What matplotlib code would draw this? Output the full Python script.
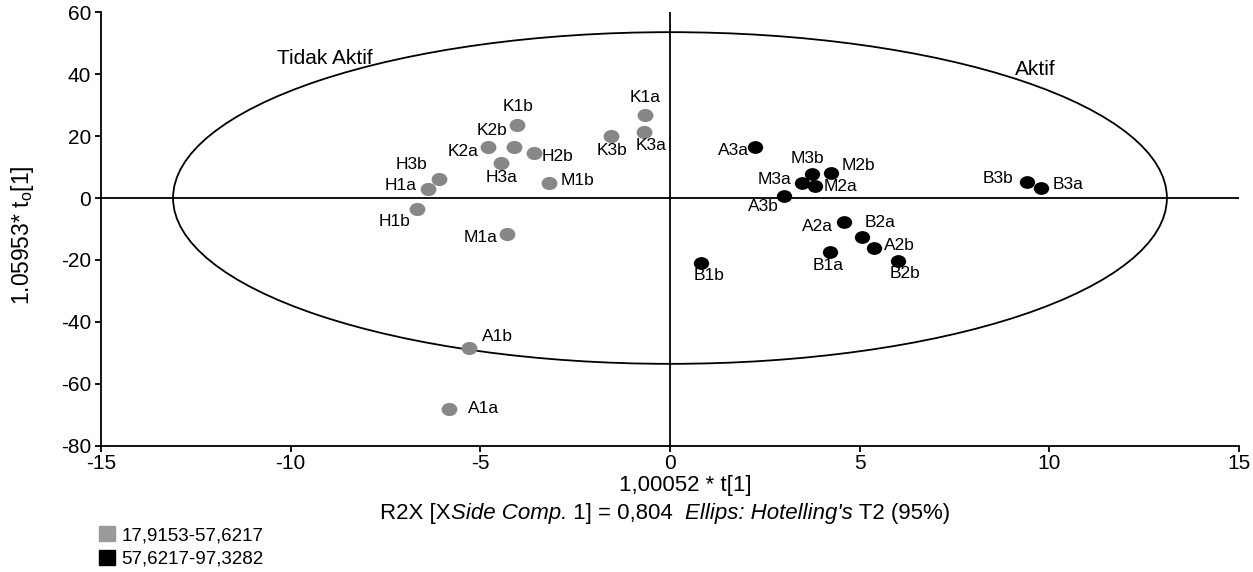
import matplotlib.pyplot as plt
import numpy as np
from matplotlib.patches import Ellipse, Patch
from matplotlib.path import Path
from matplotlib.transforms import Affine2D

plt.rcParams['font.family'] = ['Liberation Sans', 'DejaVu Sans']
plt.rcParams['mathtext.fontset'] = 'custom'
plt.rcParams['mathtext.rm'] = 'Liberation Sans'
plt.rcParams['mathtext.it'] = 'Liberation Sans:italic'
plt.rcParams['axes.unicode_minus'] = False

# scores, group "tidak aktif" (grey)
grey_names = ['K1b', 'K2b', 'K2a', 'H2b', 'H3a', 'H3b', 'H1a', 'H1b', 'M1b', 'M1a',
              'K3b', 'K1a', 'K3a', 'A1b', 'A1a']
grey_x = [-4.02, -4.11, -4.81, -3.59, -4.46, -6.10, -6.39, -6.67, -3.18, -4.30,
          -1.56, -0.66, -0.68, -5.31, -5.83]
grey_y = [23.5, 16.5, 16.5, 14.6, 11.4, 6.0, 2.9, -3.6, 4.9, -11.7,
          20.0, 26.8, 21.4, -48.5, -68.1]

# scores, group "aktif" (black)
black_names = ['A3a', 'M3b', 'M2b', 'M3a', 'M2a', 'A3b', 'A2a', 'B2a', 'A2b', 'B1a',
               'B2b', 'B1b', 'B3b', 'B3a']
black_x = [2.25, 3.74, 4.24, 3.47, 3.82, 3.00, 4.59, 5.07, 5.38, 4.22,
           6.02, 0.83, 9.40, 9.77]
black_y = [16.5, 7.7, 8.2, 4.9, 3.9, 0.7, -7.8, -12.7, -16.2, -17.3,
           -20.2, -21.1, 5.3, 3.1]

# Hotelling T2 (95%) ellipse semi-axes
ell_a = 13.1
ell_b = 53.5

legend_labels = ['17,9153-57,6217', '57,6217-97,3282']

# label offsets in pixels (dx right, dy down)
offsets = {
    'K1b': (1, -19), 'K2b': (-22, -16), 'K2a': (-24, 5), 'H2b': (24, 4),
    'H3a': (1, 15), 'H3b': (-27, -15), 'H1a': (-27, -4), 'H1b': (-22, 12),
    'M1b': (28, -2), 'M1a': (-26, 3), 'K3b': (1, 14), 'K1a': (0, -17),
    'K3a': (7, 14), 'A1b': (29, -12), 'A1a': (35, -1),
    'A3a': (-22, 4), 'M3b': (-4, -16), 'M2b': (28, -7), 'M3a': (-27, -3),
    'M2a': (26, 1), 'A3b': (-20, 11), 'A2a': (-27, 4), 'B2a': (18, -15),
    'A2b': (25, -3), 'B1a': (-2, 14), 'B2b': (7, 13), 'B1b': (8, 12),
    'B3b': (-29, -3), 'B3a': (27, -4),
}

grey = '#878787'
oval = Path.unit_circle().transformed(Affine2D().scale(1.2, 1.0))

fig = plt.figure(figsize=(12.53, 5.72), dpi=100)
ax = fig.add_axes([0.0806, 0.2203, 0.9082, 0.7587])

ax.scatter(grey_x, grey_y, s=130, marker=oval, color=grey, linewidths=0, zorder=3)
ax.scatter(black_x, black_y, s=122, marker=oval, color='black', linewidths=0, zorder=3)

for names, xs, ys in [(grey_names, grey_x, grey_y), (black_names, black_x, black_y)]:
    for n, x, y in zip(names, xs, ys):
        dx, dy = offsets[n]
        ax.annotate(n, (x, y), xytext=(dx * 0.72, -dy * 0.72), textcoords='offset points',
                    ha='center', va='center', fontsize=12.5, zorder=4)

ax.add_patch(Ellipse((0, 0), 2 * ell_a, 2 * ell_b, fill=False, lw=1.3, color='black'))
ax.axhline(0, color='black', lw=1.3)
ax.axvline(0, color='black', lw=1.3)

ax.text(-9.1, 45, 'Tidak Aktif', ha='center', va='center', fontsize=15)
ax.text(9.63, 41.6, 'Aktif', ha='center', va='center', fontsize=15)

ax.set_xlim(-15, 15)
ax.set_ylim(-80, 60)
ax.set_xticks(np.arange(-15, 16, 5))
ax.set_yticks(np.arange(-80, 61, 20))
for s in ['top', 'right']:
    ax.spines[s].set_visible(False)
for s in ['left', 'bottom']:
    ax.spines[s].set_linewidth(1.3)
ax.tick_params(labelsize=15, length=4, width=1.3)
ax.tick_params(axis='x', pad=2)
ax.tick_params(axis='y', pad=3)

fig.text(0.018, 0.588, r'1.05953* t$_\mathregular{o}$[1]', rotation=90,
         ha='center', va='center', fontsize=16.5)
fig.text(0.547, 0.152, '1,00052 * t[1]', ha='center', va='center', fontsize=16)

# R2X line built from normal / italic pieces
pieces = [('R2X [X', 'normal'), ('Side Comp.', 'italic'), (' 1] = 0,804  ', 'normal'),
          ("Ellips: Hotelling's", 'italic'), (' T2 (95%)', 'normal')]
first = fig.text(0.3, 0.084, pieces[0][0], ha='left', va='bottom', fontsize=16)
t = first
for txt, st in pieces[1:]:
    t = ax.annotate(txt, xy=(1, 0), xycoords=t, ha='left', va='bottom',
                    fontsize=16, style=st, annotation_clip=False)

# centre the whole line around x = 665 px
fig.canvas.draw()
r = fig.canvas.get_renderer()
x0 = first.get_window_extent(r).x0
x1 = t.get_window_extent(r).x1
first.set_x(0.3 + (665 - (x0 + x1) / 2) / fig.bbox.width)

handles = [Patch(color='#9a9a9a'), Patch(color='black')]
fig.legend(handles, legend_labels, loc='upper left', bbox_to_anchor=(0.079, 0.08),
           frameon=False, fontsize=13.5, handlelength=0.85, handleheight=0.85,
           handletextpad=0.35, labelspacing=0.3, borderpad=0, borderaxespad=0)

fig.savefig('out.png', dpi=100)
